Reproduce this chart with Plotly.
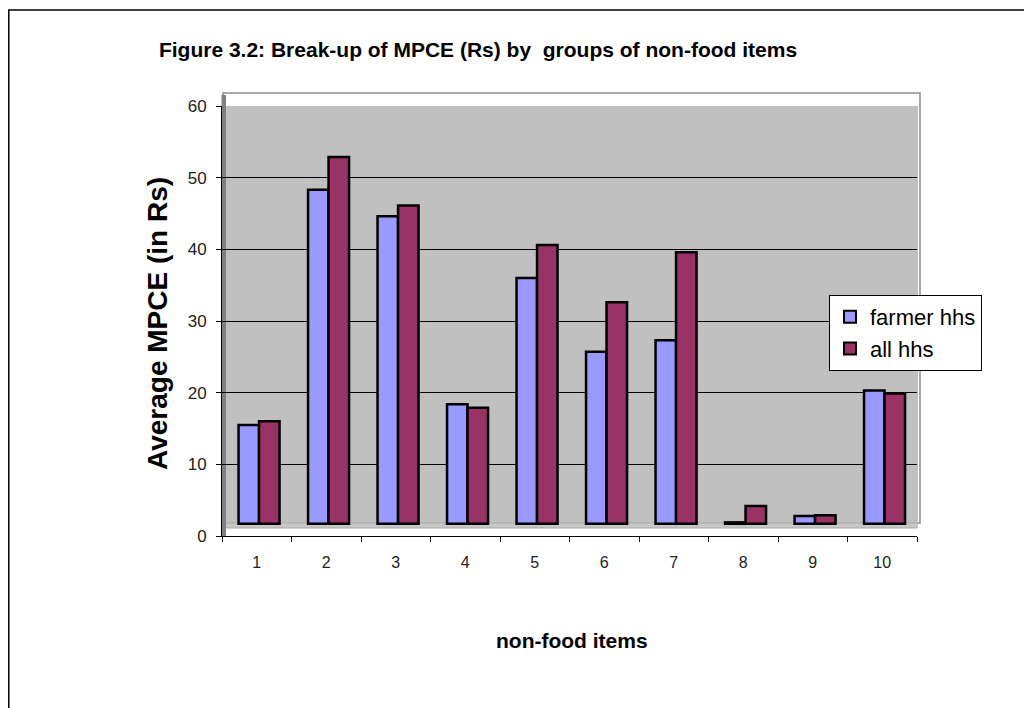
import plotly.graph_objects as go

categories = ["1", "2", "3", "4", "5", "6", "7", "8", "9", "10"]
farmer_hhs = [15.5, 48.3, 44.6, 18.4, 36.0, 25.7, 27.3, 1.9, 2.8, 20.3]
all_hhs = [16.0, 52.9, 46.1, 17.9, 40.6, 32.6, 39.6, 4.2, 2.9, 19.9]
series_names = ["farmer hhs", "all hhs"]
title_text = "Figure 3.2: Break-up of MPCE (Rs) by\u00a0 groups of non-food items"
y_title = "Average MPCE (in Rs)"
x_title = "non-food items"

FLOOR = 1.7  # 3-D floor level the columns stand on
W, H = 1024, 700          # page body has an 8px margin
OFF = 8
L, R, T, B = 214, 115, 98, 172
PW, PH = W - L - R, H - T - B
FONT = "Liberation Sans, Arial, sans-serif"


def px(s):
    return (s - OFF - L) / PW


def py(s):
    return (H - B - (s - OFF)) / PH


fig = go.Figure()
colors = ["#9999FF", "#993366"]
offsets = [-0.262, 0.033]
for name, vals, col, off in zip(series_names, [farmer_hhs, all_hhs], colors, offsets):
    fig.add_trace(go.Bar(
        x=categories,
        y=[v - FLOOR for v in vals],
        base=FLOOR,
        name=name,
        marker=dict(color=col, line=dict(color="black", width=2.5)),
        width=0.295,
        offset=off,
        customdata=vals,
        hovertemplate="%{x}: %{customdata}<extra>" + name + "</extra>",
    ))

shapes = [
    # outer chart border
    dict(type="rect", xref="paper", yref="paper", x0=px(8.8), x1=px(1045), y0=py(10), y1=py(730),
         line=dict(color="black", width=1.5), fillcolor="rgba(0,0,0,0)", layer="below"),
    # plot frame
    dict(type="rect", xref="paper", yref="paper", x0=px(223), x1=px(920), y0=py(93), y1=py(523),
         line=dict(color="#8c8c8c", width=1.5), fillcolor="rgba(0,0,0,0)", layer="below"),
    # back wall
    dict(type="rect", xref="paper", yref="paper", x0=px(226), x1=px(918), y0=py(523), y1=1,
         line=dict(width=0), fillcolor="#C0C0C0", layer="below"),
    # floor
    dict(type="rect", xref="paper", yref="paper", x0=px(224), x1=px(917), y0=py(528), y1=py(523),
         line=dict(color="#a8a8a8", width=1), fillcolor="#C8C8C8", layer="below"),
    # left wall
    dict(type="rect", xref="paper", yref="paper", x0=px(221.5), x1=px(226), y0=0, y1=py(95),
         line=dict(width=0), fillcolor="#808080", layer="below"),
]

fig.update_layout(
    width=W, height=H,
    margin=dict(l=L, r=R, t=T, b=B, pad=0),
    paper_bgcolor="white", plot_bgcolor="white",
    barmode="overlay",
    showlegend=True,
    title=dict(text=title_text, x=(478 - OFF) / W, xref="container", xanchor="center",
               y=1 - (50 - OFF) / H, yref="container", yanchor="middle",
               font=dict(family=FONT, size=21, color="black", weight="bold")),
    legend=dict(x=px(829), y=py(295), xanchor="left", yanchor="top",
                bgcolor="white", bordercolor="black", borderwidth=1,
                font=dict(family=FONT, size=22, color="black"),
                itemsizing="constant", tracegroupgap=0),
    shapes=shapes,
    annotations=[
        dict(text=y_title, xref="paper", yref="paper", x=px(157), y=py(324),
             showarrow=False, textangle=-90, xanchor="center", yanchor="middle",
             font=dict(family=FONT, size=28, color="black", weight="bold")),
        dict(text=x_title, xref="paper", yref="paper", x=px(572), y=py(640),
             showarrow=False, xanchor="center", yanchor="middle",
             font=dict(family=FONT, size=21, color="black", weight="bold")),
    ],
)

fig.update_yaxes(range=[0, 60], dtick=10, showgrid=True, gridcolor="black", gridwidth=1,
                 zeroline=False, showline=True, linecolor="black", linewidth=1,
                 ticks="outside", ticklen=5, tickcolor="black", ticklabelstandoff=6,
                 tickfont=dict(family=FONT, size=17, color="#222222"), fixedrange=True)
fig.update_xaxes(type="category", range=[-0.5, 9.5], showgrid=False, zeroline=False,
                 showline=True, linecolor="black", linewidth=1,
                 ticks="outside", ticklen=5, tickcolor="black", tickson="boundaries",
                 ticklabelstandoff=12,
                 tickfont=dict(family=FONT, size=16, color="#222222"), fixedrange=True)

fig.write_html("out.html")
